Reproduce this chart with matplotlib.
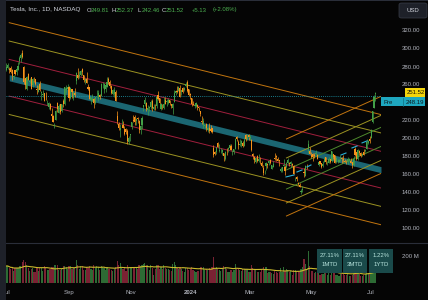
import matplotlib.pyplot as plt
import numpy as np
import pandas as pd
from matplotlib.patches import Rectangle, FancyBboxPatch
from matplotlib.lines import Line2D

plt.rcParams['font.family'] = ['Liberation Sans', 'DejaVu Sans']

# daily bars, Jul 3 2023 .. Jul 5 2024
month_bars = [20, 23, 20, 22, 21, 20, 21, 20, 20, 22, 22, 19, 4]
month_names = ["Jul", "Aug", "Sep", "Oct", "Nov", "Dec", "2024", "Feb", "Mar", "Apr", "May", "Jun", "Jul"]

opens = [
    276.5, 278.8, 278.1, 278.4, 276.5, 268.65, 276.33, 274.59, 277.01, 286.63, 290.15, 296.04, 279.56, 268.0, 255.85, 272.38, 263.25, 268.31, 259.86, 267.48,
    266.26, 255.57, 252.04, 260.97, 251.45, 248.84, 250.87, 245.4, 241.77, 235.7, 238.73, 228.02, 226.06, 214.12, 221.55, 240.25, 229.34, 238.66, 231.31, 242.58, 238.58, 254.2, 255.98,
    257.26, 245.0, 255.14, 245.07, 251.22, 264.27, 270.76, 270.07, 271.32, 277.55, 271.16, 264.35, 267.04, 257.85, 257.4, 243.38, 242.98, 244.26, 240.02, 250.0,
    244.81, 248.61, 248.14, 260.0, 253.98, 255.31, 257.75, 266.2, 262.92, 258.9, 250.05, 250.1, 252.7, 225.95, 217.01, 210.0, 216.5, 215.88, 211.32, 210.6, 209.28, 196.12,
    204.04, 212.97, 221.15, 223.98, 219.98, 223.15, 219.75, 210.03, 215.6, 235.03, 239.29, 239.49, 232.0, 234.04, 235.04, 242.04, 233.75, 236.89, 236.68, 249.21, 245.14,
    233.14, 235.75, 233.87, 242.92, 241.55, 240.27, 242.74, 238.55, 234.19, 241.22, 251.21, 253.78, 253.48, 256.41, 251.9, 256.76, 254.49, 258.35, 263.66, 255.1,
    250.08, 244.98, 239.25, 236.86, 236.14, 238.11, 235.1, 230.57, 220.08, 215.1, 214.86, 216.88, 209.99, 212.26, 211.3, 211.88, 189.7, 185.5, 185.63, 195.33, 187.0,
    188.5, 185.04, 184.26, 177.21, 188.18, 189.0, 190.18, 192.11, 183.99, 185.3, 189.16, 202.06, 196.13, 193.36, 194.0, 195.31, 192.29, 204.04, 200.42, 204.18,
    200.52, 198.73, 183.05, 179.99, 174.35, 181.5, 175.45, 177.77, 173.05, 167.77, 163.16, 170.02, 172.36, 173.0, 176.39, 166.69, 168.76, 178.58, 181.41, 177.45,
    176.17, 164.75, 164.02, 170.07, 169.08, 169.34, 172.91, 173.04, 172.55, 172.34, 170.24, 156.74, 157.64, 151.25, 148.97, 140.56, 143.33, 162.84, 158.96, 168.85, 188.42, 186.98,
    182.0, 182.86, 182.1, 183.8, 182.4, 171.59, 175.01, 173.05, 170.0, 174.5, 179.9, 174.1, 173.55, 177.56, 175.51, 182.85, 181.8, 174.84, 176.4, 174.19, 178.58, 178.5,
    178.13, 174.78, 175.35, 174.6, 176.13, 176.06, 173.92, 171.12, 188.39, 185.8, 177.92, 186.56, 184.68, 182.3, 184.97, 186.54, 189.33, 195.17, 199.55,
    201.02, 218.89, 234.56, 249.81,
]
highs = [
    284.25, 283.85, 279.97, 280.78, 277.52, 270.9, 276.52, 279.45, 285.3, 292.23, 295.26, 299.29, 280.93, 268.0, 269.85, 272.9, 268.04, 269.13, 267.25, 269.08,
    266.47, 259.52, 260.49, 264.77, 253.65, 254.24, 251.1, 251.8, 243.79, 240.66, 240.5, 233.97, 226.74, 217.58, 232.13, 240.82, 238.98, 238.92, 239.0, 244.38, 257.48, 260.51, 261.18,
    259.08, 258.0, 255.39, 252.81, 256.52, 274.85, 278.39, 274.98, 276.71, 278.98, 271.44, 267.85, 273.93, 260.86, 257.79, 247.1, 249.55, 245.33, 247.55, 254.77,
    254.28, 250.02, 261.86, 263.6, 261.65, 261.36, 268.94, 268.6, 265.41, 259.6, 255.4, 257.18, 254.63, 230.61, 218.86, 216.98, 222.05, 220.1, 214.8, 212.41, 210.88, 202.8,
    205.99, 219.2, 226.37, 226.32, 223.12, 224.15, 220.8, 215.38, 225.4, 238.14, 246.7, 240.88, 237.39, 237.1, 243.62, 244.01, 238.75, 238.33, 247.0, 252.75, 245.22,
    240.19, 239.37, 246.66, 246.57, 244.08, 245.27, 243.44, 238.99, 240.3, 253.88, 254.13, 258.74, 258.34, 259.84, 254.8, 258.22, 257.97, 263.34, 265.13, 255.19,
    251.25, 245.68, 242.7, 240.12, 241.25, 238.96, 235.5, 230.93, 225.34, 223.49, 215.67, 217.45, 213.19, 217.8, 215.65, 212.73, 193.0, 186.78, 191.48, 196.36, 193.97,
    189.88, 188.69, 184.68, 186.49, 189.79, 191.62, 194.12, 194.73, 187.26, 188.89, 200.88, 203.17, 198.6, 199.44, 198.32, 197.57, 201.78, 205.6, 205.3, 205.28,
    204.52, 199.75, 184.59, 181.58, 180.04, 182.73, 182.87, 179.43, 176.05, 171.17, 165.18, 174.72, 172.82, 176.25, 178.18, 171.2, 175.24, 184.25, 181.91, 179.57,
    176.75, 168.82, 168.82, 177.19, 170.86, 174.5, 179.22, 174.93, 175.88, 173.81, 170.69, 158.19, 158.33, 152.2, 150.94, 144.44, 147.26, 167.97, 170.88, 172.12, 198.87, 190.95,
    185.86, 184.6, 184.78, 187.56, 183.26, 176.06, 175.62, 173.06, 175.4, 179.49, 180.0, 175.79, 179.63, 177.75, 186.88, 183.8, 181.9, 180.08, 178.25, 178.15, 182.67, 180.32,
    182.64, 177.76, 176.15, 179.73, 179.35, 178.57, 174.75, 180.55, 191.08, 186.0, 188.81, 187.2, 185.21, 183.95, 188.8, 188.41, 199.63, 198.72, 203.2,
    211.3, 231.3, 248.35, 252.37,
]
lows = [
    275.11, 277.6, 272.88, 273.77, 265.1, 266.37, 271.46, 270.6, 276.31, 283.57, 286.01, 289.52, 261.2, 255.8, 254.12, 265.0, 261.75, 255.3, 258.23, 263.78,
    260.25, 250.49, 252.0, 253.11, 242.76, 246.2, 241.9, 243.13, 238.02, 233.75, 232.61, 225.38, 218.83, 212.36, 220.58, 229.55, 229.29, 228.18, 230.35, 235.35, 237.77, 250.59, 255.05,
    242.01, 244.86, 245.06, 243.27, 246.67, 260.61, 266.6, 268.1, 270.42, 271.0, 263.76, 261.2, 262.46, 254.21, 244.48, 238.31, 241.66, 234.58, 238.65, 246.35,
    242.62, 244.45, 247.6, 256.25, 250.65, 252.05, 257.65, 260.9, 256.63, 250.22, 248.48, 247.08, 242.08, 216.78, 210.42, 202.51, 214.11, 212.2, 204.88, 205.77, 194.67, 194.07,
    197.85, 211.45, 218.4, 215.0, 215.72, 217.64, 206.68, 205.69, 211.61, 230.72, 236.45, 230.96, 226.54, 231.02, 233.34, 231.4, 232.33, 232.1, 234.01, 242.76, 236.91,
    231.9, 233.29, 233.7, 239.17, 236.98, 239.27, 237.45, 233.87, 228.2, 240.79, 248.3, 251.36, 253.01, 247.0, 248.55, 251.37, 252.91, 257.52, 252.71, 247.43,
    244.41, 236.32, 237.73, 234.9, 235.3, 232.04, 231.29, 225.37, 217.15, 212.18, 212.01, 208.74, 207.56, 206.27, 207.75, 206.77, 180.06, 182.1, 183.67, 190.61, 185.85,
    184.28, 182.0, 175.01, 177.11, 182.68, 185.58, 189.48, 187.28, 182.11, 183.35, 188.86, 197.4, 189.13, 191.95, 191.36, 191.5, 192.0, 198.26, 198.44, 198.45,
    198.5, 186.72, 177.57, 173.7, 173.7, 174.7, 174.8, 172.41, 169.15, 160.51, 160.76, 165.9, 167.42, 170.82, 171.8, 166.3, 168.73, 177.11, 176.0, 175.3,
    170.21, 163.28, 163.28, 168.01, 160.51, 167.79, 171.92, 170.01, 168.51, 170.36, 161.38, 153.75, 153.78, 148.7, 146.22, 138.8, 141.11, 157.51, 158.36, 166.37, 184.54, 182.84,
    179.01, 176.02, 178.42, 182.2, 177.4, 170.15, 172.05, 167.75, 169.0, 174.07, 171.8, 171.43, 172.75, 173.52, 174.71, 178.12, 173.26, 173.73, 173.16, 173.93, 175.38, 173.82,
    174.49, 174.0, 172.13, 172.73, 175.58, 173.17, 167.41, 169.8, 181.23, 176.92, 177.0, 182.37, 179.66, 180.69, 182.26, 185.0, 188.6, 194.05, 195.26,
    200.7, 218.06, 234.25, 242.46,
]
closes = [
    279.82, 282.48, 276.54, 274.43, 269.61, 269.79, 271.99, 277.9, 281.38, 290.38, 293.34, 291.26, 262.9, 260.02, 269.06, 265.28, 264.35, 255.71, 266.44, 267.43,
    261.07, 254.11, 259.32, 253.86, 251.45, 249.7, 242.19, 245.34, 242.65, 239.76, 232.96, 225.6, 219.22, 215.49, 231.28, 233.19, 236.86, 230.04, 238.59, 238.82, 257.18, 256.9, 258.08,
    245.01, 256.49, 251.92, 251.49, 248.5, 273.58, 267.48, 271.3, 276.04, 274.39, 265.28, 266.5, 262.59, 255.7, 244.88, 246.99, 244.12, 240.5, 246.38, 250.22,
    251.6, 246.53, 261.16, 260.05, 260.53, 259.67, 263.62, 262.99, 258.87, 251.12, 253.92, 254.85, 242.68, 220.11, 211.99, 212.08, 216.52, 212.42, 205.76, 207.3, 197.36, 200.84,
    205.66, 218.51, 219.96, 219.27, 222.18, 222.11, 209.98, 214.65, 223.71, 237.41, 242.84, 233.59, 234.3, 235.6, 241.2, 234.21, 235.45, 236.08, 246.72, 244.14, 240.08,
    238.83, 235.58, 238.72, 239.37, 242.64, 243.84, 239.74, 237.01, 239.29, 251.05, 253.5, 252.08, 257.22, 247.14, 254.5, 252.54, 256.61, 261.44, 253.18, 248.48,
    248.42, 238.45, 237.93, 237.49, 240.45, 234.96, 233.94, 227.22, 218.89, 219.91, 215.55, 211.88, 212.19, 208.8, 209.14, 207.83, 182.63, 183.25, 190.93, 191.59, 187.29,
    188.86, 187.91, 181.06, 185.1, 187.58, 189.56, 193.57, 188.13, 184.02, 188.71, 200.45, 199.95, 193.76, 194.77, 197.41, 191.97, 199.4, 199.73, 202.04, 201.88,
    202.64, 188.14, 180.74, 176.54, 178.65, 175.34, 177.77, 177.54, 169.48, 162.5, 163.57, 173.8, 171.32, 175.66, 172.82, 170.83, 172.63, 177.67, 179.83, 175.79,
    175.22, 166.63, 168.38, 171.11, 164.9, 172.98, 176.88, 171.76, 174.6, 171.05, 161.48, 157.11, 155.45, 149.93, 147.05, 142.05, 144.68, 162.13, 170.18, 168.29, 194.05, 183.28,
    179.99, 180.01, 181.19, 184.76, 177.81, 174.72, 171.97, 168.47, 171.89, 177.55, 173.99, 174.84, 177.46, 174.95, 186.6, 180.11, 173.74, 179.24, 176.75, 176.19, 178.79, 178.08,
    176.29, 174.77, 175.0, 177.94, 177.48, 173.79, 170.66, 177.29, 182.47, 178.01, 187.44, 184.86, 181.57, 183.01, 182.58, 187.35, 196.37, 197.42, 197.88,
    209.86, 231.26, 246.39, 251.52,
]
# volume, millions
volumes = [
    131, 131, 114, 105, 119, 92, 114, 112, 119, 131, 130, 165, 175, 161, 136, 112, 95, 104, 112, 84,
    83, 112, 95, 113, 112, 96, 129, 115, 98, 98, 108, 120, 121, 136, 135, 137, 102, 99, 107, 130, 134, 121, 109,
    132, 129, 105, 112, 118, 174, 136, 111, 133, 133, 101, 102, 122, 119, 127, 105, 101, 136, 117, 129,
    123, 100, 129, 120, 117, 102, 122, 104, 111, 103, 89, 104, 125, 170, 138, 150, 118, 107, 116, 94, 137, 118,
    124, 125, 119, 117, 116, 106, 142, 130, 140, 149, 150, 136, 142, 103, 140, 117, 65, 106, 135, 136, 110,
    121, 104, 137, 113, 107, 110, 97, 95, 146, 160, 135, 113, 107, 125, 109, 94, 87, 113, 114, 100,
    104, 121, 102, 93, 85, 96, 92, 122, 123, 126, 103, 108, 102, 118, 106, 125, 198, 107, 125, 109, 103,
    91, 110, 134, 123, 111, 83, 84, 97, 86, 97, 148, 111, 104, 103, 92, 107, 111, 108, 111, 85,
    82, 135, 119, 108, 107, 85, 85, 87, 106, 126, 98, 126, 75, 84, 85, 75, 71, 94, 81, 78,
    81, 116, 81, 124, 89, 104, 103, 84, 95, 64, 100, 97, 83, 96, 87, 107, 124, 181, 148, 109, 243, 127,
    92, 90, 75, 84, 75, 79, 65, 67, 67, 88, 77, 59, 77, 61, 115, 89, 109, 65, 59, 55, 67, 67,
    68, 61, 58, 69, 57, 51, 64, 90, 118, 82, 109, 68, 55, 52, 61, 67, 95, 74, 95,
    105, 120, 137, 160,
]

# regression channel (down) and the rising channel drawn from April
reg_start, reg_price0, reg_slope = 2, 268.0, -0.4008
reg_offsets = [61.2, 40.8, 20.4]
rise_start, rise_price0, rise_slope = 192, 165.6, 0.73
rise_lines = [(34.4, "orange"), (13.3, "olive"), (0.0, "green"), (-21.2, "green"), (-36.7, "olive"), (-51.2, "orange")]
cyan_marks = [(191.7, 157.8, 197.2, 160.0), (199.2, 163.3, 202.7, 165.6), (206.1, 168.9, 208.8, 171.1),
              (229.4, 182.2, 232.8, 184.4), (236.9, 190.0, 240.4, 192.2), (243.8, 195.6, 247.2, 197.8)]

price_ticks = [100, 120, 140, 160, 180, 200, 220, 260, 280, 300, 320]
last_price, pre_price = 251.52, 248.19
perf = [("27.11%", "1MTD"), ("27.11%", "3MTD"), ("1.22%", "1YTD")]

BG = "#050505"
TXT = "#b2b5be"
UP, DOWN = "#43a047", "#f7931a"
COL = {"orange": "#c2750f", "olive": "#9c9322", "red": "#a11f3d", "green": "#4f8a2d"}
FS = 4.3

W, H = 428, 300
def fx(x):
    return x / W
def fy(y):
    return 1 - y / H

fig = plt.figure(figsize=(4.28, 3.0), dpi=100, facecolor=BG)
ax = fig.add_axes([fx(6), fy(243), fx(381) - fx(6), fy(0) - fy(243)])
axv = fig.add_axes([fx(6), fy(287), fx(381) - fx(6), fy(243) - fy(287)], sharex=ax)
for a in (ax, axv):
    a.set_facecolor(BG)
    a.set_xticks([])
    a.set_yticks([])
    for s in a.spines.values():
        s.set_visible(False)

n = len(closes)
x = np.arange(n)
o, h, l, c = map(np.array, (opens, highs, lows, closes))
up = c >= o
ax.set_xlim(-0.2, 256.8)
ax.set_ylim(84.4, 354.4)

# channels
xe = 256.8
xr = np.array([reg_start, xe])
yr = reg_price0 + reg_slope * (xr - reg_start)
ax.fill_between(xr, yr - 3.4, yr + 3.4, color="#1b6672", lw=0, zorder=1)
for off, key in zip(reg_offsets, ["orange", "olive", "red"]):
    ax.plot(xr, yr + off, color=COL[key], lw=0.7, zorder=1)
    ax.plot(xr, yr - off, color=COL[key], lw=0.7, zorder=1)

xs = np.array([rise_start, xe])
ys = rise_price0 + rise_slope * (xs - rise_start)
for off, key in rise_lines:
    ax.plot(xs, ys + off, color=COL[key], lw=0.7, zorder=1)

ax.axhline(pre_price, color="#1fa3b8", lw=0.6, ls=(0, (1, 1.5)), zorder=1)

# candles
colors = np.where(up, UP, DOWN)
ax.vlines(x, l, h, colors=colors, lw=0.5, zorder=3)
body = np.maximum(np.abs(c - o), 0.4)
ax.bar(x, body, bottom=np.minimum(o, c), width=0.75, color=colors, lw=0, zorder=3)

for x0, p0, x1, p1 in cyan_marks:
    ax.plot([x0, x1], [p0, p1], color="#2bb3d6", lw=0.8, zorder=4)

# volume pane
v = np.array(volumes, dtype=float)
vcol = np.where(up, "#2d6b34", "#7a2233")
axv.bar(x, v, width=0.8, color=vcol, lw=0)
vma = pd.Series(v).rolling(20, min_periods=1).mean()
axv.plot(x, vma, color="#cdbb2c", lw=0.8)
axv.set_ylim(-30.8, 307.7)

# separator lines
fig.add_artist(Line2D([0, 1], [fy(243), fy(243)], color="#2a2e39", lw=0.8))
fig.add_artist(Rectangle((0, fy(1.2)), 1, 1.2 / H, color="#2a2e39", lw=0))

# price scale
def p2y(p):
    return 139 - (p - 200) * 0.9
for p in price_ticks:
    fig.text(fx(402), fy(p2y(p)), f"{p:.2f}", color=TXT, fontsize=FS, va="center", ha="left")
fig.text(fx(402), fy(257), "200 M", color=TXT, fontsize=FS, va="center", ha="left")

fig.add_artist(Rectangle((fx(381), fy(106)), fx(425) - fx(381), (106 - 97.5) / H, color="#1ea7bf", lw=0))
fig.add_artist(Line2D([fx(403), fx(403)], [fy(106), fy(97.5)], color="#0d6f80", lw=0.5))
fig.text(fx(384), fy(102), "Pre", color="#0b1a1f", fontsize=FS, va="center", ha="left")
fig.text(fx(406), fy(102), f"{pre_price:.2f}", color="#0b1a1f", fontsize=FS, va="center", ha="left")
fig.add_artist(Rectangle((fx(405), fy(97)), fx(425) - fx(405), 8.5 / H, color="#f4d50c", lw=0))
fig.text(fx(406.5), fy(92.8), f"{last_price:.2f}", color="#1a1400", fontsize=FS, va="center", ha="left")

# time axis
starts = np.concatenate([[0], np.cumsum(month_bars)[:-1]])
for i in range(0, len(starts), 2):
    px = 6.3 + starts[i] * 1.459
    fig.text(fx(px), fy(292.5), month_names[i], color=TXT, fontsize=FS, va="center", ha="center",
             fontweight="bold" if month_names[i] == "2024" else "normal")
fig.add_artist(Rectangle((0, 0), fx(6), 1, color="#1e2129", lw=0, zorder=5))

# performance boxes
for k, (pct, lab) in enumerate(perf):
    x0 = 317 + k * 25.8
    fig.add_artist(Rectangle((fx(x0), fy(273)), 24.5 / W, 24 / H, color="#1a4a4a", lw=0))
    fig.text(fx(x0 + 12.3), fy(255.5), pct, color="#b7e3dc", fontsize=FS, ha="center", va="center")
    fig.text(fx(x0 + 12.3), fy(264.5), lab, color="#b7e3dc", fontsize=FS, ha="center", va="center")

# legend / header at the pixel positions
GREEN_T = "#4caf50"
fig.text(fx(10), fy(10), "Tesla, Inc., 1D, NASDAQ", color="#d1d4dc", fontsize=4.6, va="center")
hdr = [(87, "O", "249.81"), (112, "H", "252.37"), (137.5, "L", "242.46"), (162, "C", "251.52")]
for px, k, val in hdr:
    fig.text(fx(px), fy(10), k, color="#d1d4dc", fontsize=FS, va="center")
    fig.text(fx(px + 3.8), fy(10), val, color=GREEN_T, fontsize=FS, va="center")
fig.text(fx(192), fy(10), "+5.13", color=GREEN_T, fontsize=FS, va="center")
fig.text(fx(213), fy(10), "(+2.08%)", color=GREEN_T, fontsize=FS, va="center")

usd = FancyBboxPatch((fx(399), fy(18)), 28 / W, 15 / H, boxstyle="round,pad=0,rounding_size=0.006",
                     fc="#1e2129", ec="#3a3e49", lw=0.5)
fig.add_artist(usd)
fig.text(fx(413), fy(10.5), "USD", color="#d1d4dc", fontsize=FS, ha="center", va="center")

fig.savefig("out.png", dpi=100, facecolor=BG)
